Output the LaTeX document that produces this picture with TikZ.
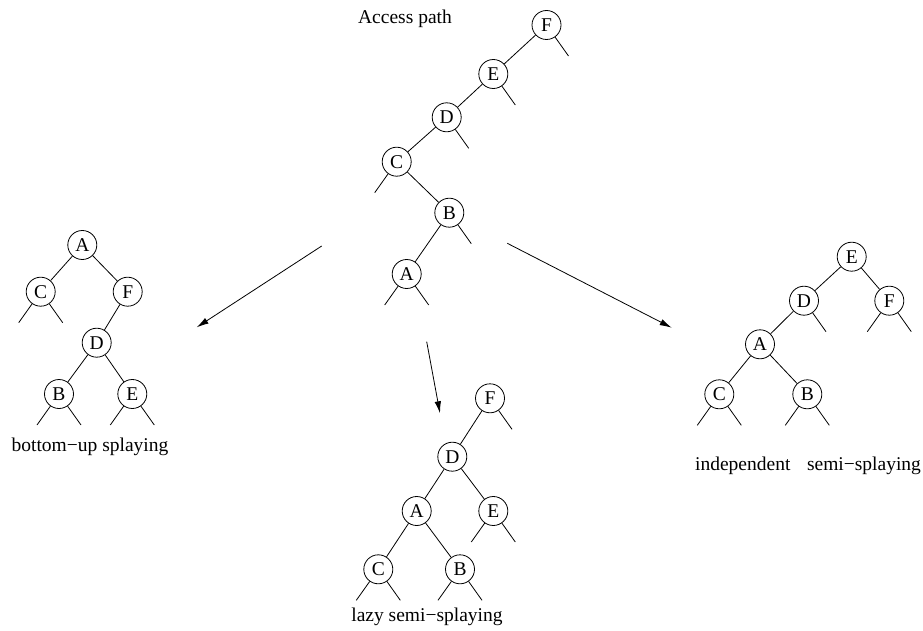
\documentclass[tikz,border=0pt]{standalone}
\usepackage{fontspec}
\setmainfont{Liberation Serif}
\usetikzlibrary{arrows.meta}
\begin{document}
\begin{tikzpicture}[x=1pt,y=-1pt,
  every node/.style={font=\fontsize{19.5}{23}\selectfont},
  tnode/.style={circle,draw,line width=0.8pt,minimum size=29pt,inner sep=0pt},
  edge/.style={line width=0.8pt},
  arr/.style={line width=0.8pt,-{Latex[length=12pt,width=6.5pt]}}]
\useasboundingbox (0,0) rectangle (923,631);
% Access path
\node at (405,19) (t0) {Access path};
\node[tnode] (pF) at (546.5,25) {F};
\node[tnode] (pE) at (493.3,74) {E};
\node[tnode] (pD) at (446.7,117.3) {D};
\node[tnode] (pC) at (396.7,161.7) {C};
\node[tnode] (pB) at (449.3,212.7) {B};
\node[tnode] (pA) at (406.7,274) {A};
\draw[edge] (pF) -- (pE);
\draw[edge] (pE) -- (pD);
\draw[edge] (pD) -- (pC);
\draw[edge] (pC) -- (pB);
\draw[edge] (pB) -- (pA);
\draw[edge] (pF) -- ++(22,31);
\draw[edge] (pE) -- ++(22,31);
\draw[edge] (pD) -- ++(22,31);
\draw[edge] (pC) -- ++(-22,31);
\draw[edge] (pB) -- ++(22,31);
\draw[edge] (pA) -- ++(-22,31);
\draw[edge] (pA) -- ++(22,31);
% bottom-up
\node[tnode] (bA) at (82.3,245) {A};
\node[tnode] (bC) at (40.7,291.7) {C};
\node[tnode] (bF) at (127.7,291.7) {F};
\node[tnode] (bD) at (96.7,342.7) {D};
\node[tnode] (bB) at (59,394) {B};
\node[tnode] (bE) at (132.3,394) {E};
\draw[edge] (bA) -- (bC);
\draw[edge] (bA) -- (bF);
\draw[edge] (bF) -- (bD);
\draw[edge] (bD) -- (bB);
\draw[edge] (bD) -- (bE);
\foreach \n in {bC,bB,bE}{
  \draw[edge] (\n) -- ++(-22,31);
  \draw[edge] (\n) -- ++(22,31);
}
\node at (90,447) (t1) {bottom−up splaying};
% lazy
\node[tnode] (lF) at (490,398.3) {F};
\node[tnode] (lD) at (452.3,456.7) {D};
\node[tnode] (lA) at (416.7,511) {A};
\node[tnode] (lE) at (493.3,511) {E};
\node[tnode] (lC) at (378.3,569.3) {C};
\node[tnode] (lB) at (460,569.3) {B};
\draw[edge] (lF) -- (lD);
\draw[edge] (lD) -- (lA);
\draw[edge] (lD) -- (lE);
\draw[edge] (lA) -- (lC);
\draw[edge] (lA) -- (lB);
\draw[edge] (lF) -- ++(22,31);
\foreach \n in {lE,lC,lB}{
  \draw[edge] (\n) -- ++(-22,31);
  \draw[edge] (\n) -- ++(22,31);
}
\node at (427,617) (t2) {lazy semi−splaying};
% independent
\node[tnode] (iE) at (851.7,256.7) {E};
\node[tnode] (iD) at (804,300.7) {D};
\node[tnode] (iF) at (889.3,300.7) {F};
\node[tnode] (iA) at (760,344.3) {A};
\node[tnode] (iC) at (719.3,394.3) {C};
\node[tnode] (iB) at (807.3,394.3) {B};
\draw[edge] (iE) -- (iD);
\draw[edge] (iE) -- (iF);
\draw[edge] (iD) -- (iA);
\draw[edge] (iA) -- (iC);
\draw[edge] (iA) -- (iB);
\draw[edge] (iD) -- ++(22,31);
\foreach \n in {iF,iC,iB}{
  \draw[edge] (\n) -- ++(-22,31);
  \draw[edge] (\n) -- ++(22,31);
}
\node at (808,466) (t3) {independent\hspace{0.6em} semi−splaying};
% arrows
\coordinate (a1s) at (321.7,246);
\coordinate (a1e) at (196.7,327.3);
\coordinate (a2s) at (507.3,243.3);
\coordinate (a2e) at (671.7,327.7);
\coordinate (a3s) at (426.7,341.7);
\coordinate (a3e) at (440,413.3);
\draw[arr] (a1s) -- (a1e);
\draw[arr] (a2s) -- (a2e);
\draw[arr] (a3s) -- (a3e);
\end{tikzpicture}
\end{document}
